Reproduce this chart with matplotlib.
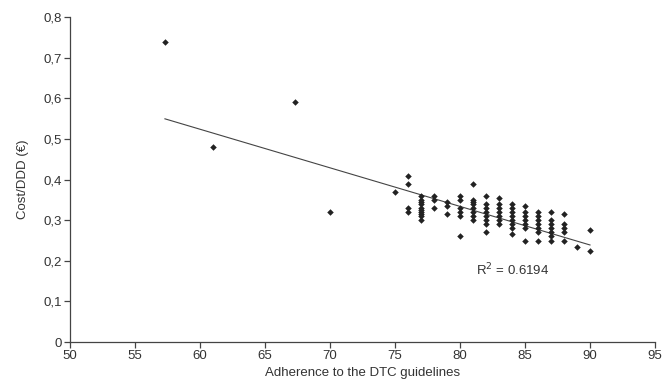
import numpy as np
import matplotlib.pyplot as plt
from matplotlib.ticker import FuncFormatter

plt.rcParams['font.family'] = ['Liberation Sans', 'DejaVu Sans']

# -------------------------------------------------
# DATA
# -------------------------------------------------
outlier_x = [57.3, 61, 67.3, 70, 75]
outlier_y = [0.74, 0.48, 0.59, 0.32, 0.37]

cluster = {
    76: [0.41, 0.39, 0.33, 0.32],
    77: [0.36, 0.35, 0.345, 0.34, 0.33, 0.325, 0.32, 0.315, 0.31, 0.30],
    78: [0.36, 0.35, 0.33],
    79: [0.345, 0.335, 0.315],
    80: [0.36, 0.35, 0.33, 0.32, 0.31, 0.26],
    81: [0.39, 0.35, 0.345, 0.34, 0.33, 0.32, 0.31, 0.30],
    82: [0.36, 0.34, 0.33, 0.32, 0.31, 0.30, 0.29, 0.27],
    83: [0.355, 0.34, 0.33, 0.32, 0.31, 0.30, 0.29],
    84: [0.34, 0.33, 0.32, 0.31, 0.30, 0.29, 0.28, 0.265],
    85: [0.335, 0.32, 0.31, 0.30, 0.29, 0.28, 0.25],
    86: [0.32, 0.31, 0.30, 0.29, 0.28, 0.27, 0.25],
    87: [0.32, 0.30, 0.29, 0.28, 0.27, 0.26, 0.25],
    88: [0.315, 0.29, 0.28, 0.27, 0.25],
    89: [0.235],
    90: [0.277, 0.225],
}

# regression line
fit_slope = -0.0095
fit_intercept = 1.094
fit_x_range = [57.3, 90]
r2_text = "R$^2$ = 0.6194"

x_ticks = [50, 55, 60, 65, 70, 75, 80, 85, 90, 95]
y_ticks = [0, 0.1, 0.2, 0.3, 0.4, 0.5, 0.6, 0.7, 0.8]

# -------------------------------------------------
# PLOT
# -------------------------------------------------
xs = list(outlier_x)
ys = list(outlier_y)
for k, vals in cluster.items():
    xs += [k] * len(vals)
    ys += vals

fig = plt.figure(figsize=(6.67, 3.9), dpi=100)
ax = fig.add_axes([0.105, 0.123, 0.877, 0.833])

ax.scatter(xs, ys, marker="D", s=11, color="#222222", linewidths=0, zorder=3)

lx = np.array(fit_x_range)
ax.plot(lx, fit_intercept + fit_slope * lx, color="#444444", lw=0.8, zorder=2)

ax.text(81.2, 0.165, r2_text, fontsize=9.5, color="#333333")

ax.set_xlim(50, 95)
ax.set_ylim(0, 0.8)
ax.set_xticks(x_ticks)
ax.set_yticks(y_ticks)
ax.yaxis.set_major_formatter(
    FuncFormatter(lambda v, p: "0" if v == 0 else f"{v:.1f}".replace(".", ","))
)

for s in ["top", "right"]:
    ax.spines[s].set_visible(False)
for s in ["left", "bottom"]:
    ax.spines[s].set_color("#444444")
    ax.spines[s].set_linewidth(0.9)

ax.tick_params(direction="out", length=4, width=0.9, color="#444444",
               labelsize=9.5, labelcolor="#333333", pad=2)

ax.set_xlabel("Adherence to the DTC guidelines", fontsize=9.5, color="#333333", labelpad=3)
ax.set_ylabel("Cost/DDD (\u20ac)", fontsize=9.5, color="#333333", labelpad=10)

fig.savefig("out.png", dpi=100)
plt.close(fig)
